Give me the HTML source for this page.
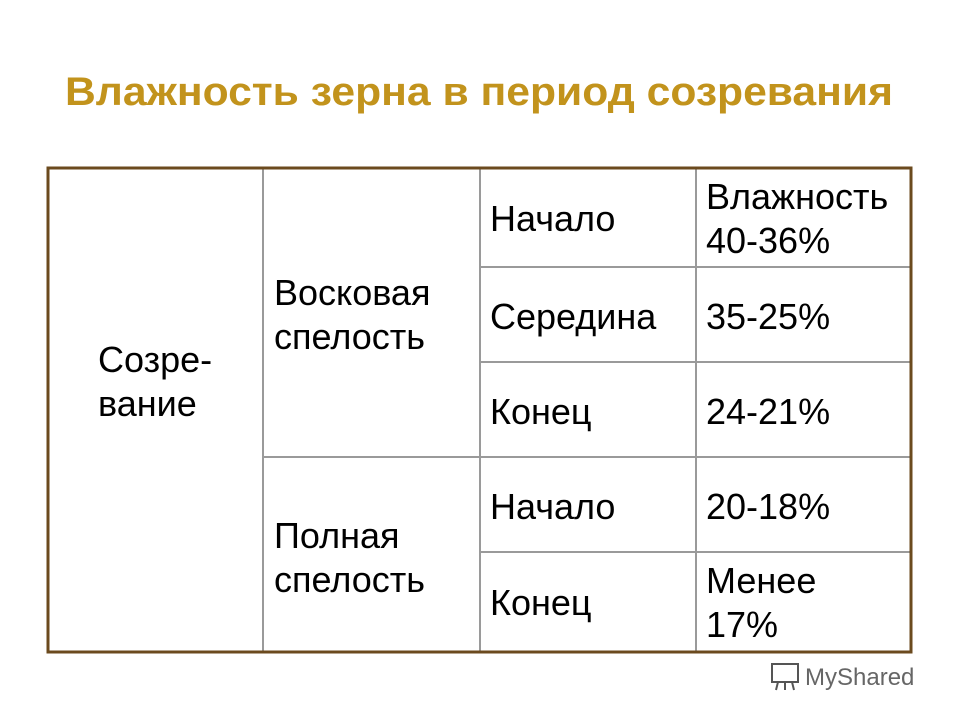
<!DOCTYPE html>
<html><head><meta charset="utf-8"><style>
html,body{margin:0;padding:0;background:#fff;width:960px;height:720px;overflow:hidden}
svg text{font-family:"Liberation Sans",Arial,sans-serif}
</style></head><body>
<svg width="960" height="720" viewBox="0 0 960 720">
<text x="479" y="105" text-anchor="middle" font-size="40" font-weight="bold" fill="#c2931c" textLength="828" lengthAdjust="spacingAndGlyphs">Влажность зерна в период созревания</text>
<g>
<g stroke="#9a9a9a" stroke-width="2" fill="none">
<line x1="263" y1="168" x2="263" y2="651"/>
<line x1="480" y1="168" x2="480" y2="651"/>
<line x1="696" y1="168" x2="696" y2="651"/>
<line x1="480" y1="267" x2="911" y2="267"/>
<line x1="480" y1="362" x2="911" y2="362"/>
<line x1="263" y1="457" x2="911" y2="457"/>
<line x1="480" y1="552" x2="911" y2="552"/>
</g>
<rect x="48" y="168" width="863" height="484" fill="none" stroke="#6b4a1e" stroke-width="3"/>
<g font-size="36" fill="#000">
<text x="98" y="372">Созре-<tspan x="98" dy="44">вание</tspan></text>
<text x="274" y="305">Восковая<tspan x="274" dy="44">спелость</tspan></text>
<text x="274" y="548">Полная<tspan x="274" dy="44">спелость</tspan></text>
<text x="490" y="231">Начало</text>
<text x="490" y="329">Середина</text>
<text x="490" y="424">Конец</text>
<text x="490" y="519">Начало</text>
<text x="490" y="615">Конец</text>
<text x="706" y="209">Влажность<tspan x="706" dy="44">40-36%</tspan></text>
<text x="706" y="329">35-25%</text>
<text x="706" y="424">24-21%</text>
<text x="706" y="519">20-18%</text>
<text x="706" y="593">Менее<tspan x="706" dy="44">17%</tspan></text>
</g>
</g>
<g fill="#555" stroke="#555">
<rect x="772" y="664" width="26" height="18" fill="none" stroke-width="2"/>
<line x1="778" y1="682" x2="776" y2="690" stroke-width="2"/>
<line x1="785" y1="682" x2="785" y2="690" stroke-width="2"/>
<line x1="792" y1="682" x2="794" y2="690" stroke-width="2"/>
<text x="805" y="685" font-size="24" stroke="none" fill="#666">MyShared</text>
</g>
</svg>
</body></html>
